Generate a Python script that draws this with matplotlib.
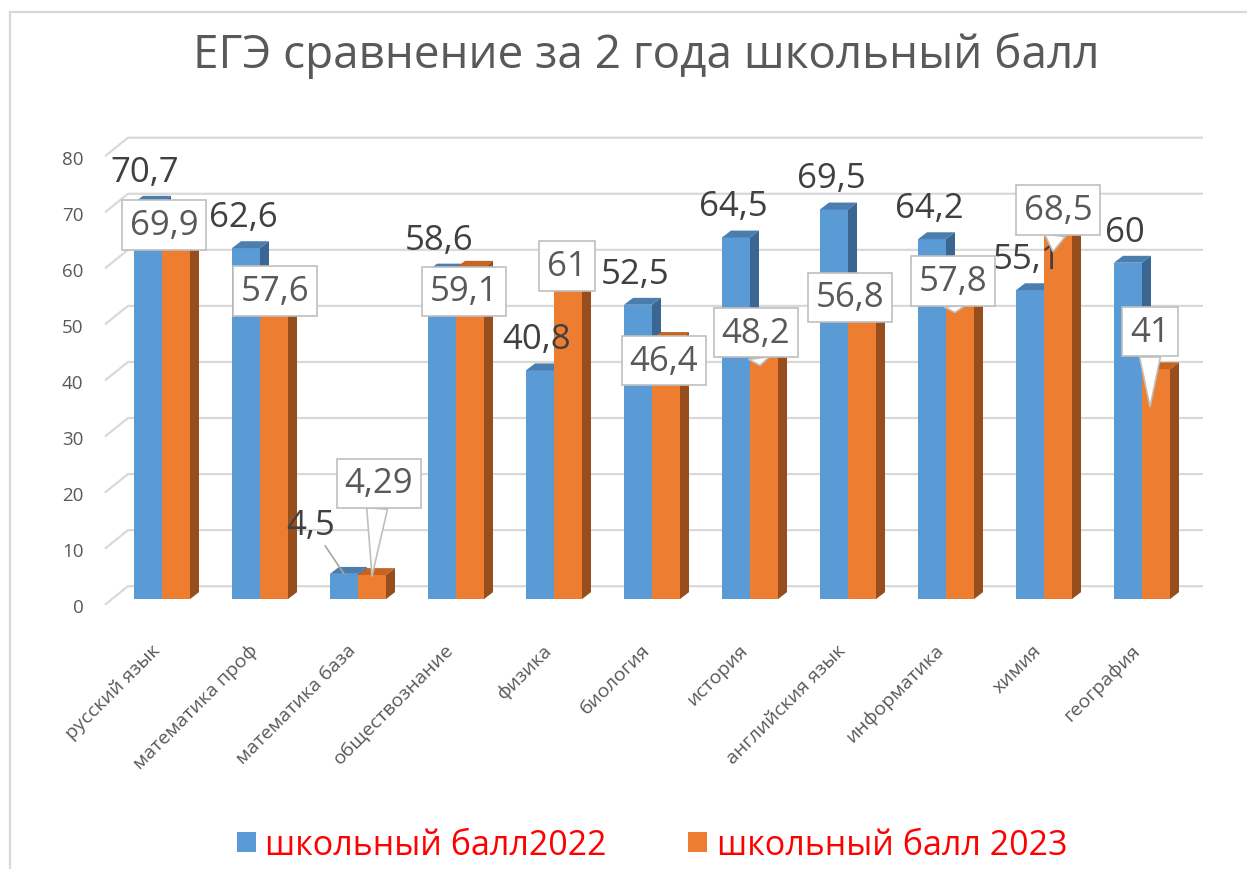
import numpy as np
import matplotlib
matplotlib.use('Agg')
import matplotlib.pyplot as plt
from matplotlib.patches import Polygon, Patch
from matplotlib.lines import Line2D

plt.rcParams['font.family'] = ['Open Sans', 'DejaVu Sans']

# ============================================================
# Data
# ============================================================
title = 'ЕГЭ сравнение за 2 года школьный балл'
categories = ['русский язык', 'математика проф', 'математика база', 'обществознание',
              'физика', 'биология', 'история', 'английския язык', 'информатика',
              'химия', 'география']
score_2022 = [70.7, 62.6, 4.5, 58.6, 40.8, 52.5, 64.5, 69.5, 64.2, 55.1, 60]
score_2023 = [69.9, 57.6, 4.29, 59.1, 61, 46.4, 48.2, 56.8, 57.8, 68.5, 41]
series_names = ['школьный балл2022', 'школьный балл 2023']
y_ticks = [0, 10, 20, 30, 40, 50, 60, 70, 80]

# ============================================================
# Layout (pixels of the 1247x870 canvas)
# ============================================================
W, H, DPI = 1247, 870, 100
PX_X, PX_Y = 98.0, 5.68          # px per category / per score point
X0_PX, Y0_PX = 162, 606          # pixel of category 0 / score 0 (front plane)
AX_L, AX_R = 100, 1210
BW = 28 / PX_X                   # bar width
DX, DY = 9 / PX_X, 7 / PX_Y      # 3D depth of bars
PT = 72 / DPI                    # points per pixel

BLUE, BLUE_TOP, BLUE_SIDE = '#5B9BD5', '#4A7EAF', '#3A6691'
ORANGE, ORANGE_TOP, ORANGE_SIDE = '#ED7D31', '#C8641F', '#984E1C'
GRID = '#D9D9D9'
TXT = '#595959'

# label placement (px): blue label offset, orange box shift, callout tips
blue_shift_px = {2: (-33, 40)}
box_shift_px = [(-12, 18), (1, 15), (7, -93), (-6, 24), (-1, 9), (-2, 22),
                (-8, 4), (-12, 17), (-7, 6), (0, -5), (-6, -38)]
tip_px = {2: (0, 1), 6: (-4, 37), 8: (-5, 38), 9: (-5, 37), 10: (-6, 38)}


def fmt(v):
    return f'{v:g}'.replace('.', ',')


fig = plt.figure(figsize=(W / DPI, H / DPI), dpi=DPI)
ax = fig.add_axes([AX_L / W, (H - Y0_PX) / H, (AX_R - AX_L) / W, 80 * PX_Y / H])
ax.set_xlim((AX_L - X0_PX) / PX_X, (AX_R - X0_PX) / PX_X)
ax.set_ylim(0, 80)
for s in ax.spines.values():
    s.set_visible(False)

# back wall gridlines with the side-wall diagonal
for v in y_ticks:
    ax.plot([(105 - X0_PX) / PX_X, (128 - X0_PX) / PX_X, (1203 - X0_PX) / PX_X],
            [v - 1.0, v + 2.3, v + 2.3], color=GRID, lw=1.6, zorder=0,
            clip_on=False, solid_capstyle='butt')

# bars
x = np.arange(len(categories))
xb = x - BW / 2
xo = x + BW / 2
ax.bar(xb, score_2022, width=BW, color=BLUE, zorder=2)
for xi, v in zip(xb, score_2022):
    l, r = xi - BW / 2, xi + BW / 2
    ax.add_patch(Polygon([(l, v), (r, v), (r + DX, v + DY), (l + DX, v + DY)],
                         closed=True, fc=BLUE_TOP, ec='none', zorder=2))
    ax.add_patch(Polygon([(r, 0), (r, v), (r + DX, v + DY), (r + DX, DY)],
                         closed=True, fc=BLUE_SIDE, ec='none', zorder=2))
ax.bar(xo, score_2023, width=BW, color=ORANGE, zorder=3)
for xi, v in zip(xo, score_2023):
    l, r = xi - BW / 2, xi + BW / 2
    ax.add_patch(Polygon([(l, v), (r, v), (r + DX, v + DY), (l + DX, v + DY)],
                         closed=True, fc=ORANGE_TOP, ec='none', zorder=3))
    ax.add_patch(Polygon([(r, 0), (r, v), (r + DX, v + DY), (r + DX, DY)],
                         closed=True, fc=ORANGE_SIDE, ec='none', zorder=3))

# 2022 labels
for i, (xi, v) in enumerate(zip(xb, score_2022)):
    dx, dy = blue_shift_px.get(i, (-3, 22))
    arrow = None
    if i in blue_shift_px:
        arrow = dict(arrowstyle='-', color='#A6A6A6', lw=1.2, shrinkA=1, shrinkB=0)
    ax.annotate(fmt(v), xy=(xi, v), xytext=(dx * PT, dy * PT), textcoords='offset points',
                ha='center', va='baseline', fontsize=25, color='#404040',
                arrowprops=arrow, annotation_clip=False, zorder=5)

# 2023 labels in callout boxes
for i, (xi, v) in enumerate(zip(xo, score_2023)):
    bx, by = box_shift_px[i]
    text_xy = (xi + bx / PX_X, v - by / PX_Y)
    arrow = None
    xy = text_xy
    if i in tip_px:
        tx, ty = tip_px[i]
        xy = (xi + tx / PX_X, v - ty / PX_Y)
        arrow = dict(arrowstyle='wedge,tail_width=0.6,shrink_factor=0.5',
                     fc='white', ec='#BFBFBF', lw=1.2, shrinkA=0, shrinkB=0)
    ax.annotate(fmt(v), xy=xy, xytext=text_xy, textcoords='data',
                ha='center', va='center', fontsize=25, color=TXT,
                bbox=dict(boxstyle='square,pad=0.22', fc='white', ec='#BFBFBF', lw=1.2),
                arrowprops=arrow, annotation_clip=False, zorder=6)

# axes ticks
ax.set_yticks(np.array(y_ticks) - 6 / PX_Y)
ax.set_yticklabels([str(t) for t in y_ticks])
ax.tick_params(axis='y', length=0, pad=12, labelsize=13.5, labelcolor=TXT)
ax.set_xticks(x - 5 / PX_X)
ax.set_xticklabels(categories, rotation=45, ha='right', va='center',
                   rotation_mode='anchor', fontsize=14, color=TXT)
ax.tick_params(axis='x', length=0, pad=30)

# title and legend
fig.text(646 / W, 1 - 68 / H, title, ha='center', va='baseline', fontsize=33, color=TXT)
handles = [Patch(fc=BLUE, ec='none'), Patch(fc=ORANGE, ec='none')]
fig.legend(handles, series_names, loc='center', bbox_to_anchor=(652 / W, 1 - 846 / H),
           ncol=2, frameon=False, fontsize=24.5, labelcolor='#FF0000',
           handlelength=0.56, handleheight=0.56, handletextpad=0.27, columnspacing=2.4)

# chart frame (left and top edges visible)
fig.add_artist(Line2D([10 / W, 10 / W], [0, 1 - 13 / H], transform=fig.transFigure,
                      color=GRID, lw=1.6))
fig.add_artist(Line2D([10 / W, 1], [1 - 13 / H, 1 - 13 / H], transform=fig.transFigure,
                      color=GRID, lw=1.6))

fig.savefig('out.png', dpi=DPI, facecolor='white')
plt.close()
